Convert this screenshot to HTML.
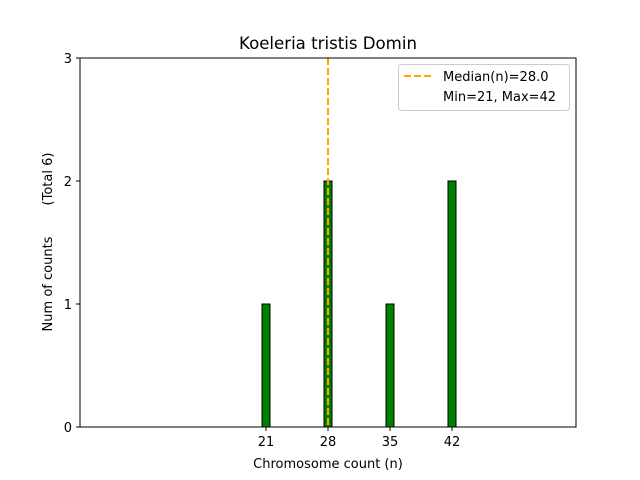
<!DOCTYPE html>
<html><head><style>body{margin:0;background:#fff}svg{display:block}text{font-family:"DejaVu Sans","Liberation Sans",sans-serif;fill:#000}</style></head><body>
<svg width="640" height="480" xmlns="http://www.w3.org/2000/svg">
<rect width="640" height="480" fill="#fff"/>
<line x1="80" y1="427" x2="483" y2="427" stroke="#000" stroke-width="1"/>
<rect x="262" y="304" width="8" height="123" fill="green" stroke="#000" stroke-width="1"/>
<rect x="324" y="181" width="8" height="246" fill="green" stroke="#000" stroke-width="1"/>
<rect x="386" y="304" width="8" height="123" fill="green" stroke="#000" stroke-width="1"/>
<rect x="448" y="181" width="8" height="246" fill="green" stroke="#000" stroke-width="1"/>
<line x1="328" y1="58" x2="328" y2="427" stroke="orange" stroke-width="2" stroke-dasharray="7,3"/>
<rect x="80" y="58" width="496" height="369" fill="none" stroke="#000" stroke-width="1"/>
<g stroke="#000">
<line x1="266" y1="427" x2="266" y2="431"/><line x1="328" y1="427" x2="328" y2="431"/>
<line x1="390" y1="427" x2="390" y2="431"/><line x1="452" y1="427" x2="452" y2="431"/>
<line x1="76" y1="427" x2="80" y2="427"/><line x1="76" y1="304" x2="80" y2="304"/>
<line x1="76" y1="181" x2="80" y2="181"/><line x1="76" y1="58" x2="80" y2="58"/>
</g>
<g font-size="13" text-anchor="middle">
<text x="266" y="446">21</text><text x="328" y="446">28</text><text x="390" y="446">35</text><text x="452" y="446">42</text>
</g>
<g font-size="13" text-anchor="end">
<text x="72" y="432">0</text><text x="72" y="309">1</text><text x="72" y="186">2</text><text x="72" y="63">3</text>
</g>
<text x="328" y="468" font-size="13" text-anchor="middle">Chromosome count (n)</text>
<text transform="translate(52,284) rotate(-90)" font-size="13" text-anchor="middle">Num of counts</text>
<text transform="translate(52,179) rotate(-90)" font-size="13" text-anchor="middle">(Total 6)</text>
<text x="328" y="49" font-size="16.6" text-anchor="middle">Koeleria tristis Domin</text>
<rect x="398.5" y="64.5" width="171" height="46" rx="3" fill="#fff" fill-opacity="0.8" stroke="#ccc"/>
<line x1="404" y1="76" x2="432" y2="76" stroke="orange" stroke-width="2" stroke-dasharray="7,3"/>
<text x="443" y="81" font-size="13">Median(n)=28.0</text>
<text x="443" y="101" font-size="13">Min=21, Max=42</text>
</svg>
</body></html>
